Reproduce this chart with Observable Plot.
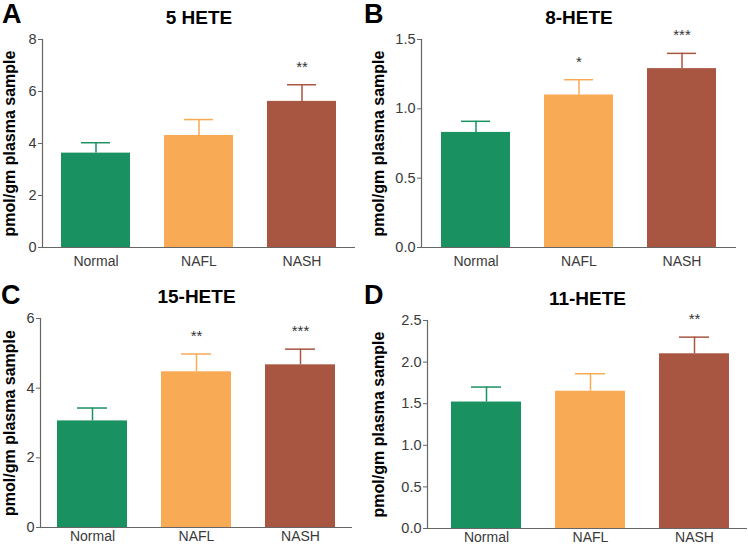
<!DOCTYPE html>
<html>
<head>
<meta charset="utf-8">
<script src="https://cdn.jsdelivr.net/npm/d3@7"></script>
<script src="https://cdn.jsdelivr.net/npm/@observablehq/plot@0.6"></script>
<style>
  html, body { margin: 0; padding: 0; background: #fff; }
  #wrap { position: relative; width: 748px; height: 548px; overflow: hidden; font-family: "Liberation Sans", Arial, sans-serif; }
  .panel { position: absolute; width: 374px; height: 274px; }
  .letter { position: absolute; font-weight: bold; font-size: 27px; line-height: 1; color: #000; }
</style>
</head>
<body>
<div id="wrap"></div>
<script>
const categories = ["Normal", "NAFL", "NASH"];
const colors = ["#1a9160", "#f9aa55", "#a85541"];

const hete5Title = "5 HETE";
const hete5 = [3.63, 4.31, 5.62];
const hete5Err = [0.40, 0.61, 0.64];
const hete5Sig = ["", "", "**"];
const hete5Ticks = [0, 2, 4, 6, 8];

const hete8Title = "8-HETE";
const hete8 = [0.83, 1.10, 1.29];
const hete8Err = [0.08, 0.11, 0.11];
const hete8Sig = ["", "*", "***"];
const hete8Ticks = [0, 0.5, 1.0, 1.5];

const hete15Title = "15-HETE";
const hete15 = [3.06, 4.47, 4.67];
const hete15Err = [0.37, 0.51, 0.45];
const hete15Sig = ["", "**", "***"];
const hete15Ticks = [0, 2, 4, 6];

const hete11Title = "11-HETE";
const hete11 = [1.52, 1.65, 2.10];
const hete11Err = [0.18, 0.21, 0.20];
const hete11Sig = ["", "", "**"];
const hete11Ticks = [0, 0.5, 1.0, 1.5, 2.0, 2.5];

const yLabel = "pmol/gm plasma sample";

const panels = [
  {letter: "A", title: hete5Title, values: hete5, err: hete5Err, sig: hete5Sig, ticks: hete5Ticks, fmt: d3.format("d"),
   left: 0, top: 0, m: {l: 42, t: 39, b: 27, r: 19}, labelDx: -33, pad: 0.17, align: 0.5, xPad: 9, letterPos: [2, 1]},
  {letter: "B", title: hete8Title, values: hete8, err: hete8Err, sig: hete8Sig, ticks: hete8Ticks, fmt: d3.format(".1f"),
   left: 374, top: 0, m: {l: 47, t: 39, b: 27, r: 12}, labelDx: -43, pad: 0.18, align: 0.5, xPad: 9, letterPos: [364, 1]},
  {letter: "C", title: hete15Title, values: hete15, err: hete15Err, sig: hete15Sig, ticks: hete15Ticks, fmt: d3.format("d"),
   left: 0, top: 274, m: {l: 40, t: 44, b: 21, r: 22}, labelDx: -31, pad: 0.16, align: 0.5, xPad: 4, letterPos: [1, 282]},
  {letter: "D", title: hete11Title, values: hete11, err: hete11Err, sig: hete11Sig, ticks: hete11Ticks, fmt: d3.format(".1f"),
   left: 374, top: 274, m: {l: 53, t: 46, b: 20, r: 1}, labelDx: -49, pad: 0.2, align: 0.57, xPad: 4, letterPos: [364, 282]}
];

const wrap = document.getElementById("wrap");

for (const p of panels) {
  const data = categories.map((c, i) => ({cat: c, value: p.values[i], upper: p.values[i] + p.err[i], sig: p.sig[i]}));
  const ymax = p.ticks[p.ticks.length - 1];
  const chart = Plot.plot({
    width: 374,
    height: 274,
    marginLeft: p.m.l,
    marginTop: p.m.t,
    marginBottom: p.m.b,
    marginRight: p.m.r,
    style: {fontFamily: "Liberation Sans, Arial, sans-serif", fontSize: "14px", color: "#3a3a3a", background: "transparent", overflow: "visible"},
    x: {domain: categories, paddingInner: 0.33, paddingOuter: p.pad, align: p.align, axis: null, label: null},
    y: {domain: [0, ymax], axis: null, label: null},
    color: {domain: categories, range: colors},
    marks: [
      Plot.barY(data, {x: "cat", y: "value", fill: "cat"}),
      Plot.ruleX(data, {x: "cat", y1: "value", y2: "upper", stroke: "cat", strokeWidth: 1.5}),
      Plot.tickY(data, {x: "cat", y: "upper", stroke: "cat", strokeWidth: 1.5, insetLeft: 20, insetRight: 20}),
      Plot.text(data, {x: "cat", y: "upper", text: "sig", dy: -18, fill: "#333", fontSize: 15}),
      Plot.axisY({ticks: p.ticks, tickFormat: p.fmt, tickSize: 4, tickPadding: 2, stroke: "#666", fill: "#3a3a3a", label: null, fontSize: 14.5}),
      Plot.axisX({tickSize: 0, tickPadding: p.xPad, fill: "#3a3a3a", label: null, fontSize: 14}),
      Plot.ruleY([0], {stroke: "#666", strokeWidth: 1.2}),
      Plot.frame({anchor: "left", stroke: "#666", strokeWidth: 1.2}),
      Plot.text([p.title], {frameAnchor: "top", dy: -29, fontWeight: "bold", fontSize: 19, fill: "#000"}),
      Plot.text([yLabel], {frameAnchor: "left", dx: p.labelDx, rotate: -90, textAnchor: "middle", lineAnchor: "middle", fontWeight: "bold", fontSize: 16, fill: "#000"})
    ]
  });
  const div = document.createElement("div");
  div.className = "panel";
  div.style.left = p.left + "px";
  div.style.top = p.top + "px";
  div.appendChild(chart);
  wrap.appendChild(div);
}

for (const p of panels) {
  const l = document.createElement("div");
  l.className = "letter";
  l.textContent = p.letter;
  l.style.left = p.letterPos[0] + "px";
  l.style.top = p.letterPos[1] + "px";
  wrap.appendChild(l);
}
</script>
</body>
</html>
